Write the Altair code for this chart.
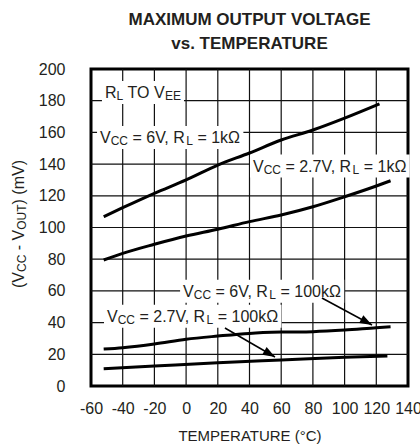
import re
import math
import altair as alt
import pandas as pd

# ---------------- data ----------------
c1_t = [-52, -40, -20, 0, 20, 40, 60, 80, 100, 122]
c1_v = [106.8, 112.5, 121.6, 130.0, 139.4, 147.0, 155.2, 161.5, 169.0, 178.0]

c2_t = [-52, -40, -20, 0, 20, 40, 60, 80, 100, 120, 129]
c2_v = [79.5, 83.7, 89.4, 94.6, 98.9, 103.7, 107.9, 113.1, 119.4, 126.2, 129.5]

c3_t = [-52, -40, -20, 0, 20, 40, 60, 80, 100, 120, 129]
c3_v = [23.3, 24.2, 26.5, 29.5, 31.5, 33.2, 34.0, 34.3, 35.3, 36.8, 37.4]

c4_t = [-52, -20, 20, 60, 100, 127]
c4_v = [10.9, 12.6, 14.7, 16.4, 18.1, 18.9]

series_names = ["6V 1k", "2.7V 1k", "6V 100k", "2.7V 100k"]

# annotation labels (left edge x, baseline y, in data units)
label_texts = ["R_{L} TO V_{EE}",
               "V_{CC} = 6V, R_{L} = 1kΩ",
               "V_{CC} = 2.7V, R_{L} = 1kΩ",
               "V_{CC} = 6V, R_{L} = 100kΩ",
               "V_{CC} = 2.7V, R_{L} = 100kΩ"]
label_x = [-51.2, -54.3, 42.2, -1.9, -49.9]
label_y = [181.7, 153.3, 135.3, 56.3, 40.6]

# arrows (start -> tip)
arrow_x0 = [85.7, 24.5]
arrow_y0 = [55.5, 36.6]
arrow_x1 = [117.3, 56.1]
arrow_y1 = [38.5, 18.3]

x_ticks = [-60, -40, -20, 0, 20, 40, 60, 80, 100, 120, 140]
y_ticks = [0, 20, 40, 60, 80, 100, 120, 140, 160, 180, 200]

y_title = "(V_{CC} - V_{OUT}) (mV)"
y_title_center = 102.2
y_title_x = -102.3

title_lines = ["MAXIMUM OUTPUT VOLTAGE", "vs. TEMPERATURE"]
x_title = "TEMPERATURE (°C)"

# ---------------- helpers ----------------
W, H = 317, 317
XDOM = [-60, 140]
YDOM = [0, 200]
PXX = W / (XDOM[1] - XDOM[0])
PXY = H / (YDOM[1] - YDOM[0])
MAIN_SIZE = 16
SUB_SIZE = 12
FONT = "Liberation Sans"
TXT = "#231f20"
GRID_HALF_PX = 0.6

CW = {' ': 278, '(': 333, ')': 333, '-': 333, ',': 278, '.': 278, '=': 584,
      'V': 667, 'C': 722, 'R': 722, 'L': 556, 'k': 500, 'Ω': 768, 'T': 611,
      'O': 778, 'E': 667, 'U': 722, 'm': 833}


def cw(ch):
    if ch.isdigit():
        return 556
    return CW.get(ch, 600)


def parse(s):
    segs = []
    for tok in re.split(r'(_\{[^}]*\})', s):
        if not tok:
            continue
        if tok.startswith('_{'):
            segs.append((tok[2:-1], True))
        else:
            segs.append((tok, False))
    return segs


def seg_width(text, sub):
    size = SUB_SIZE if sub else MAIN_SIZE
    return sum(cw(c) for c in text) * size / 1000.0


def lead(text, sub):
    n = len(text) - len(text.lstrip(" "))
    return seg_width(" " * n, sub)


main_rows, sub_rows, box_rows = [], [], []
for txt, lx, ly in zip(label_texts, label_x, label_y):
    cur = 0.0
    for t, sub in parse(txt):
        off = cur + lead(t, sub)
        row = {"x": lx + off / PXX, "y": ly, "text": t.strip(" ")}
        (sub_rows if sub else main_rows).append(row)
        cur += seg_width(t, sub)
    box_rows.append({"x": lx - 3 / PXX, "x2": lx + (cur + 3) / PXX,
                     "y": ly + 17 / PXY, "y2": ly - 6 / PXY})

ysegs = parse(y_title)
total = sum(seg_width(t, s) for t, s in ysegs)
cur = -total / 2
ymain_rows, ysub_rows = [], []
for t, sub in ysegs:
    off = cur + lead(t, sub)
    row = {"x": y_title_x, "y": y_title_center + off / PXY, "text": t.strip(" ")}
    (ysub_rows if sub else ymain_rows).append(row)
    cur += seg_width(t, sub)

curve_rows = []
for name, ts, vs in zip(series_names, [c1_t, c2_t, c3_t, c4_t], [c1_v, c2_v, c3_v, c4_v]):
    for i, (t, v) in enumerate(zip(ts, vs)):
        curve_rows.append({"series": name, "t": t, "v": v, "i": i})
curves = pd.DataFrame(curve_rows)

arrow_rows = []
for x0, y0, x1, y1 in zip(arrow_x0, arrow_y0, arrow_x1, arrow_y1):
    ang = math.degrees(math.atan2((y0 - y1) * PXY, (x1 - x0) * PXX)) % 360
    arrow_rows.append({"x0": x0, "y0": y0, "x1": x1, "y1": y1, "ang": ang})
arrows = pd.DataFrame(arrow_rows)

# grid lines as thin filled strips at the tick values
hx = GRID_HALF_PX / PXX
hy = GRID_HALF_PX / PXY
vgrid_df = pd.DataFrame({"a": [g - hx for g in x_ticks[1:-1]],
                         "b": [g + hx for g in x_ticks[1:-1]],
                         "lo": YDOM[0], "hi": YDOM[1]})
hgrid_df = pd.DataFrame({"a": [g - hy for g in y_ticks[1:-1]],
                         "b": [g + hy for g in y_ticks[1:-1]],
                         "lo": XDOM[0], "hi": XDOM[1]})

xs = alt.Scale(domain=XDOM, nice=False, zero=False)
ys = alt.Scale(domain=YDOM, nice=False, zero=False)

AX_X = alt.Axis(values=x_ticks, title=x_title, grid=False, domain=False, ticks=False,
                labelFontSize=16, labelFont=FONT,
                labelColor=TXT, labelPadding=14, labelFlush=False, labelOverlap=False,
                labelExpr="'' + datum.value",
                titleFont=FONT, titleFontSize=15, titleFontWeight="normal", titleColor=TXT,
                titlePadding=12)
AX_Y = alt.Axis(values=y_ticks, title=None, grid=False, domain=False, ticks=False,
                labelFontSize=16, labelFont=FONT,
                labelColor=TXT, labelPadding=26, labelFlush=False, labelOverlap=False,
                labelExpr="'' + datum.value")


def X(f):
    return alt.X(f, scale=xs, axis=AX_X)


def Y(f):
    return alt.Y(f, scale=ys, axis=AX_Y)


# ---------------- layers ----------------
vgrid = alt.Chart(vgrid_df).mark_rect(fill="#111111").encode(
    x=X("a:Q"), x2="b:Q", y=Y("lo:Q"), y2="hi:Q")
hgrid = alt.Chart(hgrid_df).mark_rect(fill="#111111").encode(
    y=Y("a:Q"), y2="b:Q", x=X("lo:Q"), x2="hi:Q")

boxes = alt.Chart(pd.DataFrame(box_rows)).mark_rect(fill="white").encode(
    x=X("x:Q"), x2="x2:Q", y=Y("y:Q"), y2="y2:Q")

base_curves = alt.Chart(curves).mark_line(color="black", strokeWidth=3, interpolate="monotone").encode(
    x=X("t:Q"), y=Y("v:Q"), detail="series:N", order="i:Q")

arrow_lines = alt.Chart(arrows).mark_rule(color="black", strokeWidth=1.5).encode(
    x=X("x0:Q"), y=Y("y0:Q"), x2="x1:Q", y2="y1:Q")

arrow_heads = alt.Chart(arrows).mark_point(
    shape="M0,0 L-1,-0.36 L-1,0.36 Z", filled=True, color="black", opacity=1, size=600
).encode(x=X("x1:Q"), y=Y("y1:Q"), angle=alt.Angle("ang:Q", scale=None))


def text_layer(rows, size, dy=0, angle=0):
    kw = dict(align="left", baseline="alphabetic", font=FONT, fontSize=size, dy=dy, color=TXT)
    if angle:
        kw["angle"] = angle
    return alt.Chart(pd.DataFrame(rows)).mark_text(**kw).encode(
        x=X("x:Q"), y=Y("y:Q"), text="text:N")


chart = alt.layer(
    vgrid, hgrid, boxes,
    base_curves, arrow_lines, arrow_heads,
    text_layer(main_rows, MAIN_SIZE), text_layer(sub_rows, SUB_SIZE, dy=2),
    text_layer(ymain_rows, MAIN_SIZE, angle=270), text_layer(ysub_rows, SUB_SIZE, dy=2, angle=270)
).properties(
    width=W, height=H,
    autosize="none",
    padding={"left": 91, "top": 69, "right": 12, "bottom": 58},
    title=alt.TitleParams(text=title_lines, font=FONT,
                          fontSize=17, fontWeight="bold", color=TXT, anchor="middle",
                          offset=8, lineHeight=24),
    background="white",
).configure_view(
    stroke="black", strokeWidth=3
)

chart.save("out.html", embed_options={"renderer": "svg", "actions": False})
